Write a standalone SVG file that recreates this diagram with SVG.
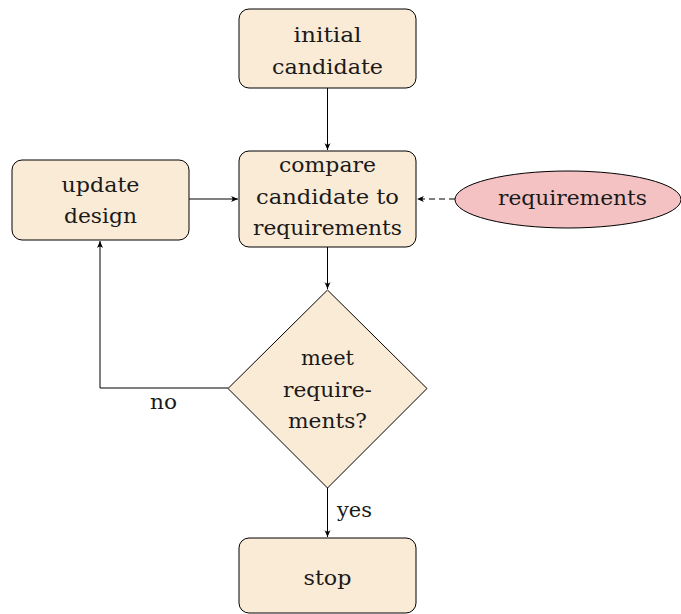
<svg xmlns="http://www.w3.org/2000/svg" width="681" height="614" viewBox="0 0 681 614">
<style>
.box{fill:#FAEBD7;stroke:#000;stroke-width:1}
.ell{fill:#F4C2C2;stroke:#000;stroke-width:1}
text{font-family:'DejaVu Serif','Liberation Serif',serif;font-size:20px;fill:#1a1a1a;text-anchor:middle}
.c{fill:none;stroke:#000;stroke-width:1}
.d{stroke-dasharray:6,4}
</style>
<defs>
<marker id="ah" markerWidth="8" markerHeight="8" refX="7" refY="4" orient="auto" markerUnits="userSpaceOnUse">
<path d="M0,1 Q3,4 0,7 L7,4 Z" fill="#000"/>
</marker>
</defs>
<g id="connectors">
<line class="c" x1="327.5" y1="88" x2="327.5" y2="150" marker-end="url(#ah)"/>
<line class="c" x1="189" y1="199" x2="238" y2="199" marker-end="url(#ah)"/>
<line class="c d" x1="455" y1="199" x2="417" y2="199" marker-end="url(#ah)"/>
<line class="c" x1="327.5" y1="247" x2="327.5" y2="289" marker-end="url(#ah)"/>
<polyline class="c" points="228,388 100,388 100,241" marker-end="url(#ah)"/>
<line class="c" x1="327.5" y1="488" x2="327.5" y2="537" marker-end="url(#ah)"/>
<text x="163.5" y="409" textLength="27" lengthAdjust="spacingAndGlyphs">no</text>
<text x="354.5" y="517" textLength="35" lengthAdjust="spacingAndGlyphs">yes</text>
</g>
<g id="initial">
<rect class="box" x="239" y="9" width="177" height="79" rx="10"/>
<text x="327.5" y="42" textLength="68" lengthAdjust="spacingAndGlyphs">initial</text>
<text x="327.5" y="74" textLength="111" lengthAdjust="spacingAndGlyphs">candidate</text>
</g>
<g id="compare">
<rect class="box" x="239" y="151" width="177" height="96" rx="10"/>
<text x="327.5" y="172" textLength="97" lengthAdjust="spacingAndGlyphs">compare</text>
<text x="327.5" y="204" textLength="143" lengthAdjust="spacingAndGlyphs">candidate to</text>
<text x="327.5" y="235" textLength="149" lengthAdjust="spacingAndGlyphs">requirements</text>
</g>
<g id="update">
<rect class="box" x="12" y="160" width="177" height="80" rx="10"/>
<text x="100.5" y="192" textLength="78" lengthAdjust="spacingAndGlyphs">update</text>
<text x="100.5" y="223" textLength="73" lengthAdjust="spacingAndGlyphs">design</text>
</g>
<g id="requirements">
<ellipse class="ell" cx="568" cy="199.5" rx="113" ry="28.5"/>
<text x="572.5" y="205" textLength="149" lengthAdjust="spacingAndGlyphs">requirements</text>
</g>
<g id="decision">
<polygon class="box" points="327.5,290 427,388.5 327.5,488 228,388.5"/>
<text x="327.5" y="365" textLength="53" lengthAdjust="spacingAndGlyphs">meet</text>
<text x="327.5" y="397" textLength="89" lengthAdjust="spacingAndGlyphs">require-</text>
<text x="327.5" y="428" textLength="79" lengthAdjust="spacingAndGlyphs">ments?</text>
</g>
<g id="stop">
<rect class="box" x="239" y="538" width="177" height="75" rx="10"/>
<text x="327.5" y="585" textLength="48" lengthAdjust="spacingAndGlyphs">stop</text>
</g>
</svg>
